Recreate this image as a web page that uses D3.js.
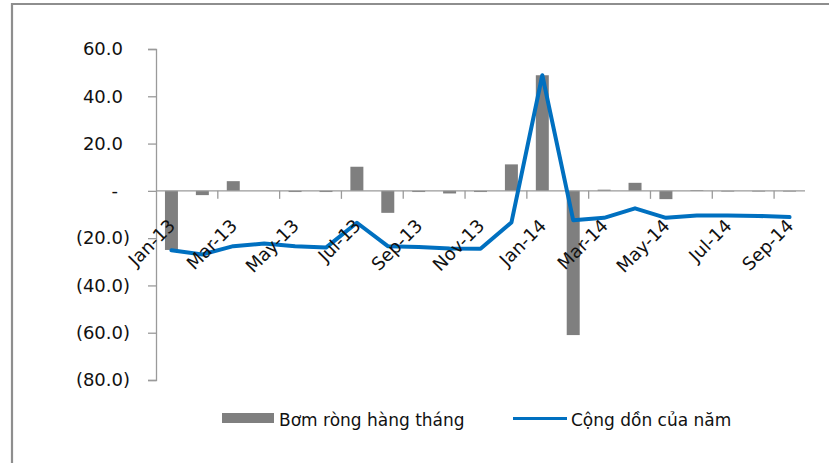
<!DOCTYPE html>
<html>
<head>
<meta charset="utf-8">
<script src="https://cdn.jsdelivr.net/npm/d3@7"></script>
<style>
  html, body { margin: 0; padding: 0; background: #fff; }
  svg { display: block; }
  text { font-family: "DejaVu Sans", Verdana, sans-serif; fill: #111; }
</style>
</head>
<body>
<svg id="chart" width="829" height="463"></svg>
<script>
// ---- data ----
const months = ["Jan-13","Feb-13","Mar-13","Apr-13","May-13","Jun-13","Jul-13","Aug-13","Sep-13","Oct-13","Nov-13","Dec-13",
                "Jan-14","Feb-14","Mar-14","Apr-14","May-14","Jun-14","Jul-14","Aug-14","Sep-14"];
const monthlyNet = [-25.0, -1.8, 4.1, 0.0, -0.5, -0.5, 10.2, -9.3, -0.5, -1.1, -0.5, 11.2,
                    48.9, -61.0, 0.5, 3.4, -3.5, 0.3, -0.3, -0.3, -0.3];
const cumulative = [-25.1, -26.9, -23.4, -22.3, -23.4, -24.0, -13.5, -23.4, -23.7, -24.4, -24.5, -13.4,
                    48.9, -12.4, -11.4, -7.4, -11.4, -10.4, -10.4, -10.6, -11.1];
const yTicks = [60, 40, 20, 0, -20, -40, -60, -80];
const seriesNames = ["Bơm ròng hàng tháng", "Cộng dồn của năm"];

// ---- layout ----
const svg = d3.select("#chart");
const plotL = 156, plotR = 805, plotT = 49, plotB = 380;
const pad = 0.58;

const x = d3.scaleBand().domain(months).range([plotL, plotR]).paddingInner(pad).paddingOuter(pad / 2);
const step = x.step();
const cx = d => x(d) + x.bandwidth() / 2;
const y = d3.scaleLinear().domain([-80, 60]).range([plotB, plotT]);

// outer frame (left and top edges visible)
svg.append("path")
  .attr("d", `M12,463 L12,4 L829,4`)
  .attr("fill", "none").attr("stroke", "#8e8e8e").attr("stroke-width", 2.2);

// y axis
const fmt = v => v === 0 ? "-" : (v < 0 ? "(" + d3.format(".1f")(-v) + ")" : d3.format(".1f")(v));
const yAxis = svg.append("g").attr("transform", `translate(${plotL},0)`)
  .call(d3.axisLeft(y).tickValues(yTicks).tickFormat(fmt).tickSize(8).tickPadding(18));
yAxis.select(".domain").attr("stroke", "#9a9a9a").attr("stroke-width", 1.3);
yAxis.selectAll(".tick line").attr("stroke", "#9a9a9a").attr("stroke-width", 1.3);
yAxis.selectAll(".tick text")
  .attr("font-size", 18)
  .attr("font-family", "DejaVu Sans, Verdana, sans-serif")
  .attr("fill", "#111")
  .attr("dx", d => d > 0 ? -7 : (d === 0 ? -12 : 0));

// bars
svg.append("g").selectAll("rect").data(months).join("rect")
  .attr("x", d => x(d))
  .attr("width", x.bandwidth())
  .attr("y", (d, i) => y(Math.max(0, monthlyNet[i])))
  .attr("height", (d, i) => Math.abs(y(monthlyNet[i]) - y(0)))
  .attr("fill", "#7f7f7f");

// x axis line at zero with tick marks every 2 categories
const zeroY = y(0);
const xg = svg.append("g");
xg.append("line").attr("x1", plotL).attr("x2", plotR).attr("y1", zeroY).attr("y2", zeroY)
  .attr("stroke", "#9a9a9a").attr("stroke-width", 1.3);
const tickIdx = d3.range(2, months.length, 2);
xg.selectAll("line.tk").data(tickIdx).join("line").attr("class", "tk")
  .attr("x1", i => plotL + i * step).attr("x2", i => plotL + i * step)
  .attr("y1", zeroY).attr("y2", zeroY + 8)
  .attr("stroke", "#9a9a9a").attr("stroke-width", 1.3);

// cumulative line
const line = d3.line().x((d, i) => cx(months[i])).y(d => y(d));
svg.append("path").datum(cumulative)
  .attr("d", line)
  .attr("fill", "none").attr("stroke", "#0070c0").attr("stroke-width", 4)
  .attr("stroke-linejoin", "round").attr("stroke-linecap", "round");

// x labels (every other month), rotated
const labelMonths = months.filter((d, i) => i % 2 === 0);
svg.append("g").selectAll("text").data(labelMonths).join("text")
  .attr("transform", d => `translate(${cx(d) + 5},${zeroY + 36}) rotate(-45)`)
  .attr("text-anchor", "end")
  .attr("font-size", 18)
  .text(d => d);

// legend
const lg = svg.append("g");
lg.append("rect").attr("x", 222).attr("y", 413).attr("width", 52).attr("height", 10).attr("fill", "#7f7f7f");
lg.append("text").attr("x", 279).attr("y", 426).attr("font-size", 17).text(seriesNames[0]);
lg.append("line").attr("x1", 513).attr("x2", 567).attr("y1", 418.5).attr("y2", 418.5)
  .attr("stroke", "#0070c0").attr("stroke-width", 3);
lg.append("text").attr("x", 571).attr("y", 426).attr("font-size", 17).text(seriesNames[1]);
</script>
</body>
</html>
